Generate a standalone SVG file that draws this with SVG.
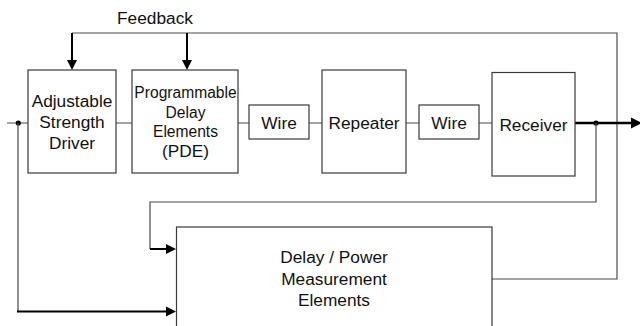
<svg xmlns="http://www.w3.org/2000/svg" width="640" height="326" viewBox="0 0 640 326">
<style>
  .box { fill: #ffffff; stroke: #3a3a3a; stroke-width: 1.2; }
  .thin { fill: none; stroke: #4a4a4a; stroke-width: 1.2; }
  .thick { fill: none; stroke: #000000; stroke-width: 2; }
  .thicker { fill: none; stroke: #000000; stroke-width: 2.6; }
  .head { fill: #000000; stroke: none; }
  .dot { fill: #000000; }
  text { font-family: "Liberation Sans", Arial, sans-serif; font-size: 17.3px; fill: #111111; text-anchor: middle; }
  .small { font-size: 15.6px; }
</style>
<rect width="640" height="326" fill="#ffffff"/>
<g id="connectors">
  <!-- main chain -->
  <path class="thin" d="M7 123 H28 M116 123 H132 M238 123 H249 M309 123 H322 M406 123 H419 M479 123 H492"/>
  <!-- feedback top line -->
  <path class="thin" d="M72 33 H617 V279 H492"/>
  <path class="thick" d="M72 33 V61 M187 33 V61"/>
  <polygon class="head" points="67,60 77,60 72,70"/>
  <polygon class="head" points="182,60 192,60 187,70"/>
  <!-- output -->
  <path class="thicker" d="M575 123 H632"/>
  <polygon class="head" points="631,117.5 631,128.5 642,123"/>
  <circle class="dot" cx="596" cy="123" r="2.6"/>
  <path class="thin" d="M596 123 V202 H150 V249"/>
  <path class="thick" d="M150 249 H167"/>
  <polygon class="head" points="166,244 166,254 176,249"/>
  <!-- input tap -->
  <circle class="dot" cx="18.3" cy="123" r="2.6"/>
  <path class="thin" d="M18 123 V311"/>
  <path class="thick" d="M17 311.5 H167"/>
  <polygon class="head" points="166,306.5 166,316.5 176,311.5"/>
</g>
<g id="driver">
  <rect class="box" x="28" y="70" width="88" height="103"/>
  <text x="72" y="107">Adjustable</text>
  <text x="72" y="128">Strength</text>
  <text x="72" y="149">Driver</text>
</g>
<g id="pde">
  <rect class="box" x="132" y="70" width="106" height="103"/>
  <text class="small" x="185.5" y="97.5">Programmable</text>
  <text class="small" x="185.5" y="117.5">Delay</text>
  <text class="small" x="185.5" y="136.5">Elements</text>
  <text x="185.5" y="157">(PDE)</text>
</g>
<g id="wire1">
  <rect class="box" x="249" y="105" width="60" height="34"/>
  <text x="279" y="128.5">Wire</text>
</g>
<g id="repeater">
  <rect class="box" x="322" y="70" width="84" height="103"/>
  <text x="364" y="128.5">Repeater</text>
</g>
<g id="wire2">
  <rect class="box" x="419" y="105" width="60" height="34"/>
  <text x="449" y="128.5">Wire</text>
</g>
<g id="receiver">
  <rect class="box" x="492" y="72.5" width="83" height="103.5"/>
  <text x="533.5" y="131">Receiver</text>
</g>
<g id="measurement">
  <rect class="box" x="176.5" y="227" width="315.5" height="120"/>
  <text x="334" y="263">Delay / Power</text>
  <text x="334" y="284.5">Measurement</text>
  <text x="334" y="306">Elements</text>
</g>
<g id="feedback-label">
  <text x="155" y="24">Feedback</text>
</g>
</svg>
